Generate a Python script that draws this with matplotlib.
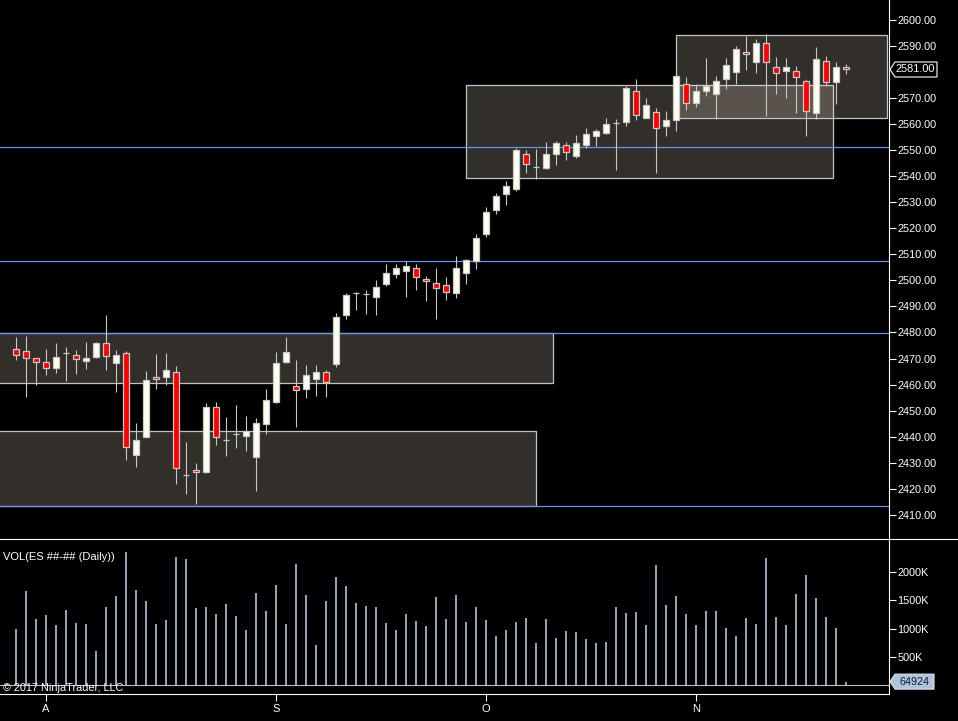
import numpy as np
import matplotlib
matplotlib.use("Agg")
import matplotlib.pyplot as plt
from matplotlib.patches import Rectangle, Polygon
from matplotlib.lines import Line2D

plt.rcParams['font.family'] = ['Liberation Sans', 'DejaVu Sans']

# ---------------- data ----------------
opens = [2473.7, 2473.0, 2470.1, 2468.8, 2466.5, 2472.0, 2471.4, 2469.2, 2470.5, 2476.0,
         2468.4, 2472.2, 2432.8, 2439.7, 2463.0, 2463.0, 2465.0, 2425.2, 2427.1, 2426.3,
         2451.2, 2438.7, 2440.9, 2440.3, 2432.3, 2445.0, 2453.3, 2468.6, 2459.6, 2458.4,
         2462.1, 2465.0, 2468.0, 2486.7, 2495.0, 2494.6, 2493.8, 2498.8, 2502.6, 2503.8,
         2504.7, 2500.7, 2499.0, 2498.2, 2495.0, 2503.0, 2507.6, 2517.9, 2527.1, 2533.0,
         2535.1, 2548.7, 2543.5, 2543.3, 2548.7, 2552.1, 2547.9, 2552.1, 2555.4, 2556.5,
         2560.4, 2560.9, 2572.7, 2562.4, 2564.7, 2559.4, 2561.7, 2575.4, 2568.2, 2572.7,
         2571.6, 2577.3, 2580.0, 2587.7, 2583.8, 2591.1, 2581.9, 2580.4, 2580.4, 2576.6,
         2564.3, 2584.2, 2576.2, 2581.9]
highs = [2478.2, 2478.8, 2470.1, 2473.5, 2475.8, 2474.6, 2473.1, 2476.3, 2476.5, 2486.8,
         2473.1, 2472.8, 2445.2, 2465.1, 2471.6, 2472.3, 2467.0, 2437.9, 2429.9, 2452.8,
         2453.2, 2447.5, 2452.1, 2447.9, 2447.1, 2458.2, 2472.6, 2478.1, 2469.6, 2467.4,
         2467.4, 2465.7, 2487.6, 2495.3, 2495.6, 2496.4, 2500.2, 2506.3, 2506.3, 2507.4,
         2506.3, 2501.5, 2504.8, 2501.4, 2509.4, 2508.1, 2517.8, 2528.1, 2533.5, 2538.1,
         2550.8, 2549.9, 2550.6, 2553.2, 2553.6, 2553.2, 2555.7, 2558.5, 2558.0, 2562.5,
         2561.8, 2574.8, 2577.4, 2570.2, 2566.2, 2565.2, 2578.5, 2578.1, 2575.4, 2585.4,
         2578.5, 2585.4, 2589.9, 2593.8, 2592.6, 2594.5, 2585.7, 2585.4, 2582.3, 2577.0,
         2589.6, 2586.1, 2583.8, 2583.1]
lows = [2469.6, 2455.2, 2459.8, 2463.5, 2464.3, 2461.3, 2464.0, 2465.8, 2470.1, 2465.6,
        2457.2, 2431.2, 2428.5, 2439.7, 2458.3, 2459.8, 2422.0, 2417.8, 2414.2, 2426.0,
        2436.9, 2432.7, 2435.6, 2434.6, 2419.3, 2441.0, 2452.8, 2468.1, 2443.8, 2454.9,
        2455.6, 2455.2, 2466.9, 2485.0, 2488.8, 2487.2, 2486.9, 2497.7, 2501.1, 2493.8,
        2496.5, 2491.9, 2485.0, 2492.3, 2493.1, 2498.8, 2504.5, 2516.8, 2525.6, 2529.0,
        2534.4, 2541.2, 2539.1, 2542.8, 2544.3, 2546.2, 2547.1, 2551.0, 2551.8, 2556.2,
        2542.4, 2559.2, 2561.7, 2562.4, 2541.2, 2555.4, 2557.5, 2565.5, 2566.5, 2570.8,
        2562.0, 2573.5, 2575.4, 2580.8, 2579.6, 2563.2, 2571.6, 2569.9, 2564.3, 2555.5,
        2562.0, 2574.7, 2567.8, 2579.2]
closes = [2471.4, 2470.3, 2468.8, 2466.5, 2470.7, 2472.0, 2469.9, 2470.3, 2476.0, 2471.0,
          2471.4, 2435.9, 2438.6, 2461.9, 2462.3, 2465.7, 2427.9, 2425.2, 2426.3, 2451.2,
          2439.7, 2438.7, 2440.9, 2442.1, 2445.4, 2454.2, 2468.4, 2472.6, 2458.1, 2463.8,
          2465.0, 2461.1, 2486.0, 2494.4, 2495.0, 2494.6, 2497.4, 2502.8, 2504.7, 2505.5,
          2501.3, 2499.7, 2496.9, 2495.4, 2504.7, 2507.8, 2516.2, 2526.1, 2532.6, 2536.4,
          2550.2, 2544.8, 2543.5, 2548.7, 2552.9, 2549.4, 2552.9, 2556.3, 2557.2, 2560.1,
          2560.4, 2573.9, 2563.6, 2567.4, 2558.6, 2561.7, 2578.5, 2568.2, 2572.7, 2574.7,
          2576.6, 2582.7, 2588.8, 2586.9, 2591.1, 2583.8, 2579.6, 2581.9, 2578.1, 2565.1,
          2585.0, 2576.2, 2581.9, 2581.0]
volume_k = [995, 1666, 1171, 1242, 1065, 1330, 1100, 1083, 606, 1383,
            1578, 2355, 1684, 1489, 1083, 1154, 2267, 2231, 1366, 1383,
            1260, 1436, 1224, 977, 1631, 1313, 1772, 1083, 2143, 1596,
            712, 1489, 1914, 1755, 1454, 1401, 1383, 1100, 977, 1260,
            1136, 1048, 1560, 1171, 1596, 1118, 1383, 1154, 871, 977,
            1118, 1189, 747, 1171, 836, 959, 942, 818, 747, 765,
            1383, 1277, 1295, 1065, 2125, 1419, 1578, 1260, 1065, 1313,
            1313, 1012, 871, 1189, 1083, 2249, 1207, 1065, 1613, 1949,
            1542, 1207, 1012, 64.924]

month_labels = ["A", "S", "O", "N"]
month_start_bar = [3, 26, 47, 68]

# zones (bar index start, bar index end, price low, price high)
zone_x0 = [-5, -5, 45.0, 66.0]
zone_x1 = [53.7, 52.0, 81.7, 87.1]
zone_lo = [2460.5, 2413.5, 2539.2, 2562.3]
zone_hi = [2479.7, 2442.0, 2574.9, 2594.2]
level_lines = [2551.1, 2507.4, 2479.7, 2413.5]

# 2580.00 label is hidden behind the last-price marker in the reference
price_ticks = [v for v in range(2410, 2601, 10) if v != 2580]
vol_ticks_k = [500, 1000, 1500, 2000]

# ---------------- figure ----------------
W, H = 958, 721
fig = plt.figure(figsize=(W / 100, H / 100), dpi=100, facecolor='black')

AX_RIGHT = 889
SEP_Y = 539
VOL_TOP = 540
VOL_BOT = 694

ax = fig.add_axes([0, 1 - SEP_Y / H, AX_RIGHT / W, SEP_Y / H], facecolor='black')
axv = fig.add_axes([0, 1 - VOL_BOT / H, AX_RIGHT / W, (VOL_BOT - VOL_TOP) / H], facecolor='black')

n = len(closes)
x = np.arange(n)
o = np.array(opens); c = np.array(closes); hi = np.array(highs); lo = np.array(lows)

xlim = (-1.6, 87.3)
ppx = 2.604  # px per point
ax.set_xlim(*xlim)
ax.set_ylim(2600 - (SEP_Y - 20) / ppx, 2600 + 20 / ppx)

# zones
for x0, x1, l, h in zip(zone_x0, zone_x1, zone_lo, zone_hi):
    ax.add_patch(Rectangle((x0, l), x1 - x0, h - l, facecolor=(1.0, 0.92, 0.84, 0.2),
                           edgecolor='#c4c4c4', linewidth=0.9, zorder=1))
for lv in level_lines:
    ax.axhline(lv, color='#6495ED', linewidth=0.9, zorder=2)

# candles
edge = '#c8c8c8'
ax.vlines(x, lo, hi, color=edge, linewidth=0.8, zorder=3)
fills = np.where(c > o, '#fffff0', '#ff0000')
ax.bar(x, c - o, bottom=o, width=0.55, color=fills, edgecolor=edge, linewidth=0.9, zorder=4)

# price axis
ax.yaxis.tick_right()
ax.set_yticks(price_ticks)
ax.set_yticklabels([f"{v:.2f}" for v in price_ticks])
ax.tick_params(axis='y', colors='white', length=5, width=0.8, pad=1, labelsize=7.8)
ax.set_xticks([])
for s in ['left', 'top', 'bottom']:
    ax.spines[s].set_visible(False)
ax.spines['right'].set_color('white')
ax.spines['right'].set_linewidth(0.8)

# volume panel
vk = np.array(volume_k) * 1000
px_per_unit = 28.3 / 500000
zero_y = 685.3
axv.set_xlim(*xlim)
axv.set_ylim(-(VOL_BOT - zero_y) / px_per_unit, (zero_y - VOL_TOP) / px_per_unit)
axv.vlines(x, 0, vk, color='#b0c4de', linewidth=1.2, zorder=3)
axv.axhline(0, color='#c0c0c0', linewidth=0.8, zorder=2)
axv.yaxis.tick_right()
axv.set_yticks([v * 1000 for v in vol_ticks_k])
axv.set_yticklabels([f"{v}K" for v in vol_ticks_k])
axv.tick_params(axis='y', colors='white', length=5, width=0.8, pad=1, labelsize=7.8)
axv.set_xticks(month_start_bar)
axv.set_xticklabels(month_labels)
axv.tick_params(axis='x', colors='white', length=5, width=0.8, pad=2, labelsize=8)
for s in ['left', 'top']:
    axv.spines[s].set_visible(False)
for s in ['right', 'bottom']:
    axv.spines[s].set_color('white')
    axv.spines[s].set_linewidth(0.8)

axv.text(3 / AX_RIGHT, 1 - (557 - VOL_TOP) / (VOL_BOT - VOL_TOP), "VOL(ES ##-## (Daily))",
         transform=axv.transAxes, color='white', fontsize=8, va='center', ha='left')
axv.text(3 / AX_RIGHT, 1 - (688 - VOL_TOP) / (VOL_BOT - VOL_TOP), "\u00a9 2017 NinjaTrader, LLC",
         transform=axv.transAxes, color='white', fontsize=7.8, va='center', ha='left', zorder=5)

# separator line
fig.add_artist(Line2D([0, 1], [1 - SEP_Y / H] * 2, transform=fig.transFigure,
                      color='white', linewidth=0.8))

# last value markers (pixel coordinates, origin bottom-left)
fig.canvas.draw()


def marker(axis, value, text, face, edgec, textc, width):
    yd = axis.transData.transform((0, value))[1]
    xd = axis.transAxes.transform((1, 0))[0]
    hh = 7.5
    pts = [(xd + 1, yd), (xd + 6, yd - hh), (xd + width, yd - hh),
           (xd + width, yd + hh), (xd + 6, yd + hh)]
    fig.add_artist(Polygon(pts, closed=True, transform=None, facecolor=face,
                           edgecolor=edgec, linewidth=0.8, zorder=10))
    fig.text((xd + 5 + (width - 5) / 2) / W, yd / H, text, color=textc, fontsize=7.8,
             ha='center', va='center', zorder=11)


marker(ax, closes[-1], f"{closes[-1]:.2f}", 'black', 'white', 'white', 48)
marker(axv, vk[-1], f"{int(round(vk[-1]))}", '#b0c4de', '#dde6f2', '#0a1a33', 45)

fig.savefig("out.png", dpi=100, facecolor='black')
